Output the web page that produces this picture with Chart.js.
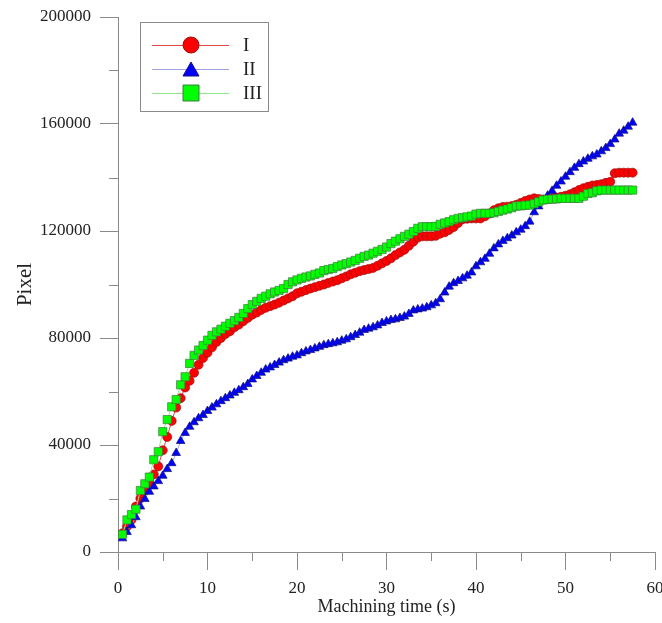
<!DOCTYPE html>
<html lang="en">
  <head>
    <meta charset="UTF-8" />
    <title>Pixel vs machining time</title>
    <script src="https://cdn.jsdelivr.net/npm/chart.js"></script>
    <style>
      body {
        margin: 0;
        background: #fff;
      }
      #pixelChart {
        display: block;
      }
    </style>
  </head>

  <body>
    <canvas id="pixelChart" width="662" height="623"></canvas>

    <script>
      // sampling times (s), shared by the three series
      const time = [
        0.5, 1, 1.5, 2, 2.5, 3, 3.5, 4, 4.5, 5,
        5.5, 6, 6.5, 7, 7.5, 8, 8.5, 9, 9.5, 10,
        10.5, 11, 11.5, 12, 12.5, 13, 13.5, 14, 14.5, 15,
        15.5, 16, 16.5, 17, 17.5, 18, 18.5, 19, 19.5, 20,
        20.5, 21, 21.5, 22, 22.5, 23, 23.5, 24, 24.5, 25,
        25.5, 26, 26.5, 27, 27.5, 28, 28.5, 29, 29.5, 30,
        30.5, 31, 31.5, 32, 32.5, 33, 33.5, 34, 34.5, 35,
        35.5, 36, 36.5, 37, 37.5, 38, 38.5, 39, 39.5, 40,
        40.5, 41, 41.5, 42, 42.5, 43, 43.5, 44, 44.5, 45,
        45.5, 46, 46.5, 47, 47.5, 48, 48.5, 49, 49.5, 50,
        50.5, 51, 51.5, 52, 52.5, 53, 53.5, 54, 54.5, 55,
        55.5, 56, 56.5, 57, 57.5
      ];

      const pixelI = [
        7000, 9500, 12000, 17000, 20000, 23000, 26000, 29000, 32000, 38000,
        43000, 49000, 54000, 57500, 61500, 64000, 67000, 70000, 72500, 74500,
        76500, 78500, 80000, 81500, 82500, 84000, 85000, 86300, 87500, 88700,
        89500, 90500, 91300, 91900, 92500, 93200, 94000, 94800, 95600, 96700,
        97300, 97900, 98500, 99000, 99500, 100000, 100600, 101100, 101600, 102300,
        103000, 103800, 104400, 105000, 105400, 105800, 106200, 107000, 107900, 108800,
        109800, 111000, 112000, 113000, 114500, 116000, 117500, 118000, 118000, 118000,
        118200, 119000, 119500, 120400, 121500, 123000, 124400, 124600, 124700, 124700,
        124700, 125500, 126500, 127800, 128500, 129000, 129100, 129300, 129800, 130500,
        131200, 131800, 132200, 132000, 131800, 132000, 132300, 132500, 132800, 133200,
        133700, 134500, 135300, 136000, 136500, 137000, 137200, 137500, 138000, 138400,
        141600, 141800, 141800, 141800, 141800
      ];

      const pixelII = [
        5100, 7500, 10000, 13000, 17000, 19800, 22500, 24500, 26500, 28500,
        31000, 33200, 37000, 41500, 44500, 46800, 48500, 50000, 51200, 52700,
        54000, 55200, 56400, 57500, 58500, 59500, 60500, 61600, 62800, 64500,
        65800, 67000, 68200, 69000, 69900, 70800, 71700, 72300, 73000, 73500,
        74300, 75000, 75500, 76100, 76700, 77300, 77700, 78000, 78400, 79000,
        79500, 80300, 81100, 82000, 83000, 83500, 84000, 84700, 85600, 86200,
        86700, 87000, 87500, 88000, 89000, 90300, 90700, 91000, 91500, 92200,
        93000, 94500, 97000, 99200, 100500, 101300, 102300, 103300, 104500, 106800,
        108300, 109600, 111500, 113500, 115000, 116300, 117300, 118300, 119500, 120500,
        121800, 123500, 127000, 129200, 131300, 133200, 135000, 136900, 138500, 140300,
        142000, 143600, 145000, 146000, 147000, 147900, 148600, 149800, 151000, 152500,
        154200, 156400, 157500, 159000, 160500
      ];

      const pixelIII = [
        6600, 12000, 14000, 16000, 23000, 25500, 28000, 34500, 37500, 45000,
        49500, 54300, 57000, 62500, 65500, 70500, 73500, 75500, 77200, 79200,
        81000, 82300, 83300, 84400, 85500, 86500, 87700, 89200, 91000, 92500,
        93700, 94800, 95600, 96500, 97200, 97800, 98500, 100000, 101000, 101700,
        102300, 102800, 103200, 103800, 104300, 105200, 105600, 106000, 106700, 107300,
        107800, 108400, 109000, 109800, 110500, 111000, 111700, 112400, 113100, 114000,
        115300, 116200, 117100, 118000, 118800, 119800, 121000, 121600, 121600, 121600,
        121700, 122500, 123000, 123500, 124200, 124700, 125000, 125300, 125600, 126300,
        126600, 126600, 126600, 126800, 127300, 127800, 128200, 128700, 129300, 129400,
        129600, 129700, 130200, 130900, 131600, 131800, 131900, 132000, 132200, 132200,
        132200, 132200, 132200, 133000, 134000, 134300, 135000, 135300, 135300, 135300,
        135300, 135300, 135300, 135300, 135300
      ];

      const seriesNames = ["I", "II", "III"];
      const xMinorTicks = [5, 15, 25, 35, 45, 55];
      const yMinorTicks = [20000, 60000, 100000, 140000, 180000];

      const serif = "'Liberation Serif', 'Times New Roman', serif";
      const axisColor = "#8a8a8a";
      const textColor = "#222";

      function toPoints(values) {
        return values.map((v, i) => ({ x: time[i], y: v }));
      }

      // short minor ticks between the labelled ones
      const minorTicks = {
        id: "minorTicks",
        afterDraw(chart) {
          const { ctx, scales } = chart;
          const x = scales.x;
          const y = scales.y;
          ctx.save();
          ctx.strokeStyle = axisColor;
          ctx.lineWidth = 1;
          ctx.beginPath();
          xMinorTicks.forEach((v) => {
            const px = Math.round(x.getPixelForValue(v)) + 0.5;
            ctx.moveTo(px, y.bottom);
            ctx.lineTo(px, y.bottom + 9);
          });
          yMinorTicks.forEach((v) => {
            const py = Math.round(y.getPixelForValue(v)) + 0.5;
            ctx.moveTo(x.left, py);
            ctx.lineTo(x.left - 9, py);
          });
          ctx.stroke();
          ctx.restore();
        },
      };

      // boxed legend with a line through each marker, inside the plot
      const boxLegend = {
        id: "boxLegend",
        afterDraw(chart) {
          const ctx = chart.ctx;
          ctx.save();
          ctx.strokeStyle = "#8a8a8a";
          ctx.lineWidth = 1;
          ctx.strokeRect(140.5, 22.5, 128, 89);
          chart.data.datasets.forEach((ds, i) => {
            const cy = 45 + i * 24;
            ctx.strokeStyle = ds.borderColor;
            ctx.lineWidth = 1;
            ctx.beginPath();
            ctx.moveTo(152, cy + 0.5);
            ctx.lineTo(229, cy + 0.5);
            ctx.stroke();
            ctx.fillStyle = ds.pointBackgroundColor;
            ctx.strokeStyle = ds.pointBorderColor;
            ctx.beginPath();
            if (ds.pointStyle === "circle") {
              ctx.arc(191, cy, 8, 0, Math.PI * 2);
            } else if (ds.pointStyle === "triangle") {
              ctx.moveTo(191, cy - 7);
              ctx.lineTo(199, cy + 7);
              ctx.lineTo(183, cy + 7);
              ctx.closePath();
            } else {
              ctx.rect(183, cy - 8, 16, 16);
            }
            ctx.fill();
            ctx.stroke();
            ctx.fillStyle = textColor;
            ctx.font = "19px " + serif;
            ctx.textBaseline = "middle";
            ctx.textAlign = "left";
            ctx.fillText(ds.label, 243, cy + 1);
          });
          ctx.restore();
        },
      };

      const ctx = document.getElementById("pixelChart").getContext("2d");
      const pixelChart = new Chart(ctx, {
        type: "line",
        data: {
          datasets: [
            {
              label: seriesNames[0],
              data: toPoints(pixelI),
              borderColor: "#e04a4a",
              borderWidth: 1,
              pointStyle: "circle",
              pointRadius: 4.5,
              pointBackgroundColor: "#ff0000",
              pointBorderColor: "#9a1010",
              pointBorderWidth: 0.7,
              order: 3,
            },
            {
              label: seriesNames[1],
              data: toPoints(pixelII),
              borderColor: "#9ea5e0",
              borderWidth: 1,
              pointStyle: "triangle",
              pointRadius: 5,
              pointBackgroundColor: "#0000ff",
              pointBorderColor: "#10107a",
              pointBorderWidth: 0.7,
              order: 2,
            },
            {
              label: seriesNames[2],
              data: toPoints(pixelIII),
              borderColor: "#92e892",
              borderWidth: 1,
              pointStyle: "rect",
              pointRadius: 5.8,
              pointBackgroundColor: "#00ff00",
              pointBorderColor: "#3f7a3f",
              pointBorderWidth: 0.7,
              order: 1,
            },
          ],
        },
        options: {
          responsive: false,
          animation: false,
          layout: {
            padding: { top: 17, right: 7, bottom: 0, left: 0 },
          },
          plugins: {
            legend: { display: false },
            tooltip: { enabled: false },
          },
          scales: {
            x: {
              type: "linear",
              min: 0,
              max: 60,
              ticks: {
                stepSize: 10,
                padding: 8,
                color: textColor,
                font: { family: serif, size: 17 },
                callback: (v) => String(v),
              },
              grid: {
                drawOnChartArea: false,
                drawTicks: true,
                tickLength: 18,
                color: axisColor,
              },
              border: { color: axisColor },
              title: {
                display: true,
                text: "Machining time (s)",
                color: textColor,
                font: { family: serif, size: 18 },
                padding: { top: 0, bottom: 5 },
              },
              afterFit(scale) {
                scale.height = 71;
                // let the "60" label run into the margin as in the original
                scale.paddingLeft = 0;
                scale.paddingRight = 0;
              },
            },
            y: {
              min: 0,
              max: 200000,
              ticks: {
                stepSize: 40000,
                padding: 9,
                color: textColor,
                font: { family: serif, size: 17 },
                callback: (v) => String(v),
              },
              grid: {
                drawOnChartArea: false,
                drawTicks: true,
                tickLength: 18,
                color: axisColor,
              },
              border: { color: axisColor },
              title: {
                display: true,
                text: "Pixel",
                color: textColor,
                font: { family: serif, size: 21 },
                padding: { top: 13, bottom: 0 },
              },
              afterFit(scale) {
                scale.width = 118;
                scale.paddingTop = 0;
                scale.paddingBottom = 0;
              },
            },
          },
        },
        plugins: [minorTicks, boxLegend],
      });
    </script>
  </body>
</html>
